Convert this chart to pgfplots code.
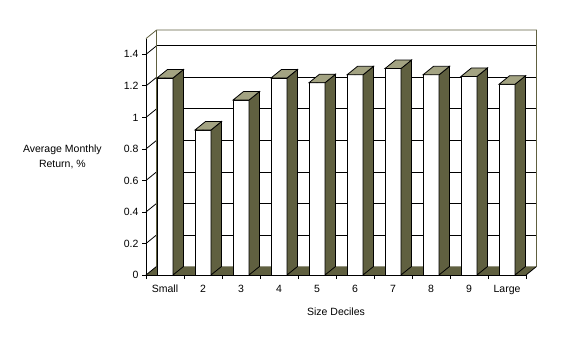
\documentclass[border=0pt]{standalone}
\usepackage{fontspec}
\setmainfont{Liberation Sans}
\usepackage{pgfplots}
\usepackage{pgfplotstable}
\pgfplotsset{compat=1.18}
\definecolor{sidec}{RGB}{96,96,64}
\definecolor{topc}{RGB}{163,163,130}

\pgfplotstableread{
x v
0 1.25
1 0.92
2 1.11
3 1.25
4 1.22
5 1.27
6 1.31
7 1.27
8 1.26
9 1.21
}\data

\begin{document}
\begin{tikzpicture}[x=1pt,y=1pt]
\useasboundingbox (0,0) rectangle (575,353);
\begin{axis}[
  at={(146pt,78pt)}, anchor=south west,
  scale only axis, width=380pt, height=236.4pt,
  xmin=-0.5, xmax=9.5, ymin=0, ymax=1.5,
  clip=false,
  axis x line*=bottom, axis y line*=left,
  axis line style={black, line width=0.8pt},
  xtick={0,...,9},
  xticklabels={Small,2,3,4,5,6,7,8,9,Large},
  minor xtick={-0.5,0.5,1.5,2.5,3.5,4.5,5.5,6.5,7.5,8.5,9.5},
  major x tick style={draw=none},
  ytick={0,0.2,0.4,0.6,0.8,1,1.2,1.4},
  tick align=outside,
  major tick length=4pt, minor tick length=4pt,
  tick style={black, line width=0.8pt},
  /pgf/number format/assume math mode=true,
  tick label style={font=\fontsize{10.5}{12}\selectfont},
  xticklabel style={yshift=-2.5pt},
  xlabel={Size Deciles},
  ylabel={Average Monthly\\Return, \%},
  label style={font=\fontsize{10.5}{15}\selectfont},
  xlabel style={yshift=-7pt},
  ylabel style={rotate=-90, align=center, at={(axis description cs:-0.22,0.5)}, anchor=center},
]
% floor
\filldraw[fill=sidec, draw=none] (axis cs:-0.5,0) -- (axis cs:9.5,0) -- ++(10.5pt,8.5pt) -- ([shift={(10.5pt,8.5pt)}]axis cs:-0.5,0) -- cycle;
\draw[black, line width=0.8pt] (axis cs:9.5,0) -- ++(10.5pt,8.5pt);
% back wall gridlines and left wall diagonals
\pgfplotsinvokeforeach{0.2,0.4,0.6,0.8,1,1.2,1.4}{
  \draw[black, line width=0.8pt] ([shift={(10.5pt,8.5pt)}]axis cs:-0.5,#1) -- ([shift={(10.5pt,8.5pt)}]axis cs:9.5,#1);
  \draw[black, line width=0.8pt] (axis cs:-0.5,#1) -- ++(10.5pt,8.5pt);
}
\draw[black, line width=0.8pt] (axis cs:-0.5,0) -- ++(10.5pt,8.5pt);
% wall frame
\draw[sidec, line width=0.8pt] (axis cs:-0.5,1.5) -- ++(10.5pt,8.5pt)
   -- ([shift={(10.5pt,8.5pt)}]axis cs:9.5,1.5) -- ([shift={(10.5pt,8.5pt)}]axis cs:9.5,0);
\draw[sidec, line width=0.8pt] ([shift={(10.5pt,8.5pt)}]axis cs:-0.5,0) -- ([shift={(10.5pt,8.5pt)}]axis cs:-0.5,1.5);
% bar fronts
\addplot[ybar, bar width=16pt, bar shift=0pt, fill=white, draw=black, line width=0.8pt] table[x=x,y=v]{\data};
% bar sides and tops
\addplot[only marks, scatter, mark=*, mark size=0.01pt,
  mark options={draw=none, fill=none},
  visualization depends on={\thisrow{v} \as \V},
  scatter/@pre marker code/.code={
    \pgfmathsetmacro\h{-\V*157.6}
    \pgfmathsetmacro\hh{\h+8.5}
    \filldraw[fill=sidec, draw=black, line width=0.8pt] (8pt,0pt) -- (18.5pt,8.5pt) -- (18.5pt,\hh pt) -- (8pt,\h pt) -- cycle;
    \filldraw[fill=topc, draw=black, line width=0.8pt] (-8pt,0pt) -- (8pt,0pt) -- (18.5pt,8.5pt) -- (2.5pt,8.5pt) -- cycle;
  },
  scatter/@post marker code/.code={},
] table[x=x,y=v]{\data};
\end{axis}
\end{tikzpicture}
\end{document}
